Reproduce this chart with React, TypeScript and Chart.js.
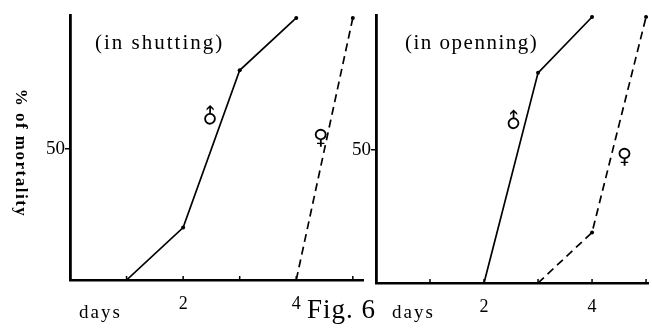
import React, { useEffect, useRef } from "react";
import { Chart, registerables } from "chart.js";
Chart.register(...registerables);

// ---- data ----
const shutMaleDays = [1, 2, 3, 4];
const shutMaleMortality = [0, 20, 80, 100];
const shutFemaleDays = [4, 5];
const shutFemaleMortality = [0, 100];
const openMaleDays = [2, 3, 4];
const openMaleMortality = [0, 79, 100];
const openFemaleDays = [3, 4, 5];
const openFemaleMortality = [0, 19, 100];
const xTickValues = [0, 1, 2, 3, 4, 5];
const xTickLabels = [2, 4];
const yTickValues = [0, 50, 100];
const yTickLabels = [50];

const SERIF = '"Liberation Serif", "DejaVu Serif", serif';

type Txt = { text: string; x: number; y: number; size: number; spacing?: number; rot?: number; align?: CanvasTextAlign; base?: CanvasTextBaseline; bold?: boolean };
type Sym = { text: string; dx: number; dy: number; size: number; rot?: number };

const pts = (xs: number[], ys: number[]) => xs.map((x, i) => ({ x, y: ys[i] }));

function makePlugin(texts: Txt[], syms: Sym[]) {
  return {
    id: "decor",
    afterDraw(chart: any) {
      const ctx = chart.ctx as CanvasRenderingContext2D;
      const xs = chart.scales.x;
      const ys = chart.scales.y;
      const area = chart.chartArea;
      ctx.save();
      // inward x tick marks
      ctx.strokeStyle = "#000";
      ctx.lineWidth = 1.5;
      for (const d of xTickValues) {
        if (d <= 0 || d > xs.max) continue;
        const px = xs.getPixelForValue(d);
        ctx.beginPath();
        ctx.moveTo(px, area.bottom);
        ctx.lineTo(px, area.bottom - 4);
        ctx.stroke();
      }
      ctx.fillStyle = "#000";
      for (const t of texts) {
        ctx.save();
        ctx.font = `${t.bold ? "bold " : ""}${t.size}px ${SERIF}`;
        (ctx as any).letterSpacing = `${t.spacing ?? 0}px`;
        ctx.textAlign = t.align ?? "left";
        ctx.textBaseline = t.base ?? "middle";
        ctx.translate(t.x, t.y);
        if (t.rot) ctx.rotate(t.rot);
        ctx.fillText(t.text, 0, 0);
        ctx.restore();
      }
      for (const s of syms) {
        ctx.save();
        ctx.font = `bold ${s.size}px "DejaVu Sans", sans-serif`;
        ctx.textAlign = "center";
        ctx.textBaseline = "middle";
        ctx.translate(xs.getPixelForValue(s.dx), ys.getPixelForValue(s.dy));
        if (s.rot) ctx.rotate(s.rot);
        ctx.fillText(s.text, 0, 0);
        ctx.restore();
      }
      ctx.restore();
    },
  };
}

type PanelCfg = {
  male: { x: number; y: number }[];
  female: { x: number; y: number }[];
  xMax: number;
  yMax: number;
  yWidth: number;
  xHeight: number;
  padding: { top: number; right: number; left: number; bottom: number };
  texts: Txt[];
  syms: Sym[];
};

function buildConfig(c: PanelCfg): any {
  const ptRadius = (ctx: any) => (ctx.raw && ctx.raw.y > 0 ? 2 : 0);
  return {
    type: "line",
    data: {
      datasets: [
        {
          data: c.male,
          borderColor: "#000",
          backgroundColor: "#000",
          borderWidth: 1.7,
          pointRadius: ptRadius,
          pointBorderWidth: 0,
          tension: 0,
        },
        {
          data: c.female,
          borderColor: "#000",
          backgroundColor: "#000",
          borderWidth: 1.7,
          borderDash: [8, 5],
          pointRadius: ptRadius,
          pointBorderWidth: 0,
          tension: 0,
        },
      ],
    },
    options: {
      responsive: false,
      animation: false,
      events: [],
      layout: { padding: c.padding },
      plugins: { legend: { display: false }, tooltip: { enabled: false }, title: { display: false } },
      scales: {
        x: {
          type: "linear",
          min: 0,
          max: c.xMax,
          afterBuildTicks: (s: any) => {
            s.ticks = xTickValues.filter((v) => v <= c.xMax).map((v) => ({ value: v }));
          },
          afterFit: (s: any) => {
            s.height = c.xHeight;
          },
          grid: { display: false },
          border: { display: true, color: "#000", width: 2.5 },
          ticks: {
            autoSkip: false,
            maxRotation: 0,
            color: "#000",
            padding: 5,
            font: { family: SERIF, size: 18 },
            callback: (v: number) => (xTickLabels.includes(v) ? String(v) : ""),
          },
        },
        y: {
          type: "linear",
          min: 0,
          max: c.yMax,
          afterBuildTicks: (s: any) => {
            s.ticks = yTickValues.map((v) => ({ value: v }));
          },
          afterFit: (s: any) => {
            s.width = c.yWidth;
          },
          grid: {
            display: true,
            drawOnChartArea: false,
            drawTicks: true,
            tickLength: 5,
            lineWidth: 1.5,
            color: (ctx: any) => (ctx.tick && yTickLabels.includes(ctx.tick.value) ? "#000" : "rgba(0,0,0,0)"),
          },
          border: { display: true, color: "#000", width: 2.8 },
          ticks: {
            autoSkip: false,
            color: "#000",
            padding: 0,
            font: { family: SERIF, size: 19 },
            callback: (v: number) => (yTickLabels.includes(v) ? String(v) : ""),
          },
        },
      },
    },
    plugins: [makePlugin(c.texts, c.syms)],
  };
}

function Panel({ left, width, cfg }: { left: number; width: number; cfg: PanelCfg }) {
  const ref = useRef<HTMLCanvasElement | null>(null);
  useEffect(() => {
    if (!ref.current) return;
    const chart = new Chart(ref.current, buildConfig(cfg));
    return () => chart.destroy();
  }, []);
  return (
    <canvas
      ref={ref}
      width={width}
      height={331}
      style={{ position: "absolute", left, top: 0, width, height: 331 }}
    />
  );
}

const leftCfg: PanelCfg = {
  male: pts(shutMaleDays, shutMaleMortality),
  female: pts(shutFemaleDays, shutFemaleMortality),
  xMax: 5.18,
  yMax: 101.1,
  yWidth: 70,
  xHeight: 51,
  padding: { top: 15, right: 17, left: 0, bottom: 0 },
  texts: [
    { text: "(in shutting)", x: 95, y: 43, size: 21, spacing: 2 },
    { text: "days", x: 79, y: 313, size: 19, spacing: 2 },
    { text: "Fig. 6", x: 307, y: 318, size: 27, spacing: 1, base: "alphabetic" },
    { text: "% of mortality", x: 20, y: 153, size: 17, spacing: 1.5, rot: Math.PI / 2, align: "center", bold: true },
  ],
  syms: [
    { text: "♂", dx: 2.5, dy: 62, size: 21, rot: -Math.PI / 4 },
    { text: "♀", dx: 4.43, dy: 54, size: 21 },
  ],
};

const rightCfg: PanelCfg = {
  male: pts(openMaleDays, openMaleMortality),
  female: pts(openFemaleDays, openFemaleMortality),
  xMax: 5.036,
  yMax: 100.75,
  yWidth: 46,
  xHeight: 48,
  padding: { top: 15, right: 0, left: 0, bottom: 0 },
  texts: [
    { text: "(in openning)", x: 75, y: 43, size: 21, spacing: 1.5 },
    { text: "days", x: 62, y: 313, size: 19, spacing: 2 },
  ],
  syms: [
    { text: "♂", dx: 2.57, dy: 60.5, size: 21, rot: -Math.PI / 4 },
    { text: "♀", dx: 4.6, dy: 47, size: 21 },
  ],
};

export default function App() {
  return (
    <div style={{ position: "fixed", left: 0, top: 0, width: 652, height: 331, background: "#fff", overflow: "hidden" }}>
      <Panel left={0} width={380} cfg={leftCfg} />
      <Panel left={330} width={322} cfg={rightCfg} />
    </div>
  );
}
